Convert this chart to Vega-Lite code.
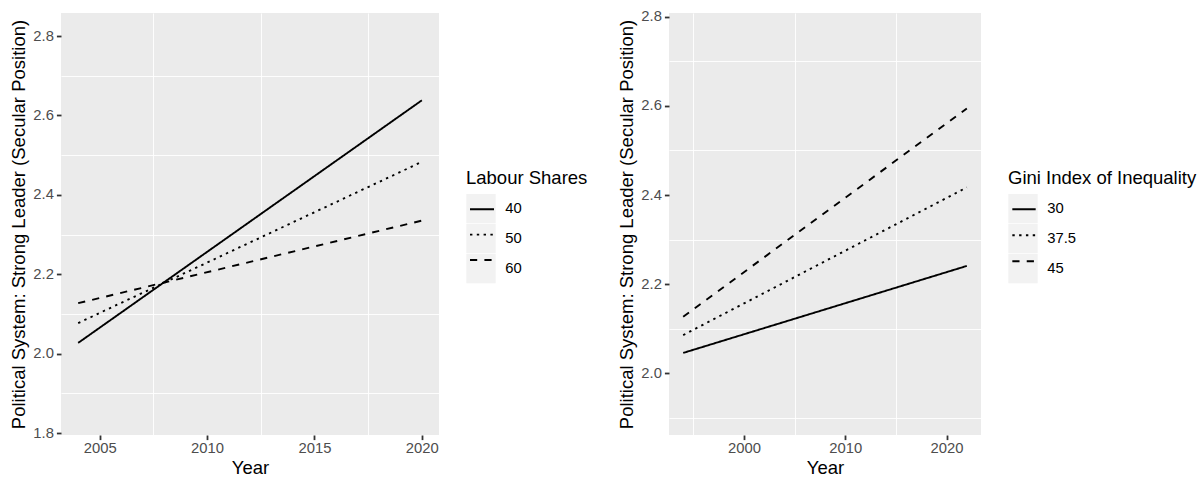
{
  "$schema": "https://vega.github.io/schema/vega-lite/v6.json",
  "background": "white",
  "padding": {"left": 9, "top": 8, "right": 0, "bottom": 0},
  "spacing": 29,
  "datasets": {
    "left": [
      {"year": 2004, "value": 2.027, "labour": "40", "key": "40"},
      {"year": 2020, "value": 2.638, "labour": "40", "key": "40"},
      {"year": 2004, "value": 2.077, "labour": "50", "key": "50"},
      {"year": 2020, "value": 2.483, "labour": "50", "key": "50"},
      {"year": 2004, "value": 2.127, "labour": "60", "key": "60"},
      {"year": 2020, "value": 2.335, "labour": "60", "key": "60"}
    ],
    "right": [
      {"year": 1994, "value": 2.046, "gini": "30", "gkey": "30"},
      {"year": 2022, "value": 2.241, "gini": "30", "gkey": "30"},
      {"year": 1994, "value": 2.086, "gini": "37.5", "gkey": "37.5"},
      {"year": 2022, "value": 2.417, "gini": "37.5", "gkey": "37.5"},
      {"year": 1994, "value": 2.127, "gini": "45", "gkey": "45"},
      {"year": 2022, "value": 2.594, "gini": "45", "gkey": "45"}
    ]
  },
  "hconcat": [
    {
      "data": {"name": "left"},
      "width": 378,
      "height": 422,
      "layer": [
        {
          "mark": {"type": "point", "opacity": 0, "filled": true, "color": "#F2F2F2"},
          "encoding": {
            "x": {"field": "year", "type": "quantitative", "scale": {"domain": [2003.2, 2020.8], "nice": false, "zero": false},
                  "axis": {"orient": "bottom", "values": [2007.5, 2012.5, 2017.5], "grid": true, "gridWidth": 0.9, "labels": false, "ticks": false, "domain": false, "title": null}},
            "y": {"field": "value", "type": "quantitative", "scale": {"domain": [1.795, 2.858], "nice": false, "zero": false},
                  "axis": {"orient": "left", "values": [1.9, 2.1, 2.3, 2.5, 2.7], "grid": true, "gridWidth": 0.9, "labels": false, "ticks": false, "domain": false, "title": null}},
            "shape": {"field": "key", "type": "nominal", "scale": {"range": ["square", "square", "square"]},
                      "legend": {"title": "Labour Shares", "orient": "none", "legendX": 405, "legendY": 156.3, "symbolType": "square", "symbolSize": 858, "symbolFillColor": "#F2F2F2", "symbolStrokeColor": "#F2F2F2", "symbolStrokeWidth": 0, "symbolOpacity": 1, "rowPadding": 0, "labelOffset": 9.3, "titlePadding": 5.85, "padding": 0, "titleLimit": 400}}
          }
        },
        {
          "mark": {"type": "line", "color": "black", "strokeWidth": 1.9},
          "encoding": {
            "x": {"field": "year", "type": "quantitative", "scale": {"domain": [2003.2, 2020.8], "nice": false, "zero": false},
                  "axis": {"orient": "bottom", "values": [2005, 2010, 2015, 2020], "format": "d", "title": "Year"}},
            "y": {"field": "value", "type": "quantitative", "scale": {"domain": [1.795, 2.858], "nice": false, "zero": false},
                  "axis": {"orient": "left", "values": [1.8, 2.0, 2.2, 2.4, 2.6, 2.8], "format": ".1f", "title": "Political System: Strong Leader (Secular Position)"}},
            "strokeDash": {"field": "labour", "type": "nominal", "scale": {"domain": ["40", "50", "60"], "range": [[1, 0], [2.4, 4.4], [7.2, 7.2]]},
                           "legend": {"title": null, "orient": "none", "legendX": 408, "legendY": 183.3, "symbolType": "stroke", "symbolSize": 576, "symbolStrokeWidth": 1.9, "symbolStrokeColor": "black", "labelExpr": "''", "rowPadding": 5.35, "padding": 0, "zindex": 1}}
          }
        }
      ],
      "resolve": {"axis": {"x": "independent", "y": "independent"}}
    },
    {
      "data": {"name": "right"},
      "width": 312,
      "height": 422,
      "layer": [
        {
          "mark": {"type": "point", "opacity": 0, "filled": true, "color": "#F2F2F2"},
          "encoding": {
            "x": {"field": "year", "type": "quantitative", "scale": {"domain": [1992.6, 2023.4], "nice": false, "zero": false},
                  "axis": {"orient": "bottom", "values": [1995, 2005, 2015], "grid": true, "gridWidth": 0.9, "labels": false, "ticks": false, "domain": false, "title": null}},
            "y": {"field": "value", "type": "quantitative", "scale": {"domain": [1.862, 2.808], "nice": false, "zero": false},
                  "axis": {"orient": "left", "values": [1.9, 2.1, 2.3, 2.5, 2.7], "grid": true, "gridWidth": 0.9, "labels": false, "ticks": false, "domain": false, "title": null}},
            "shape": {"field": "gkey", "type": "nominal", "scale": {"range": ["square", "square", "square"]},
                      "legend": {"title": "Gini Index of Inequality", "orient": "none", "legendX": 339, "legendY": 156.3, "symbolType": "square", "symbolSize": 858, "symbolFillColor": "#F2F2F2", "symbolStrokeColor": "#F2F2F2", "symbolStrokeWidth": 0, "symbolOpacity": 1, "rowPadding": 0, "labelOffset": 9.3, "titlePadding": 5.85, "padding": 0, "titleLimit": 400}}
          }
        },
        {
          "mark": {"type": "line", "color": "black", "strokeWidth": 1.9},
          "encoding": {
            "x": {"field": "year", "type": "quantitative", "scale": {"domain": [1992.6, 2023.4], "nice": false, "zero": false},
                  "axis": {"orient": "bottom", "values": [2000, 2010, 2020], "format": "d", "title": "Year"}},
            "y": {"field": "value", "type": "quantitative", "scale": {"domain": [1.862, 2.808], "nice": false, "zero": false},
                  "axis": {"orient": "left", "values": [2.0, 2.2, 2.4, 2.6, 2.8], "format": ".1f", "title": "Political System: Strong Leader (Secular Position)"}},
            "strokeDash": {"field": "gini", "type": "nominal", "scale": {"domain": ["30", "37.5", "45"], "range": [[1, 0], [2.4, 4.4], [7.2, 7.2]]},
                           "legend": {"title": null, "orient": "none", "legendX": 342, "legendY": 183.3, "symbolType": "stroke", "symbolSize": 545, "symbolStrokeWidth": 1.9, "symbolStrokeColor": "black", "labelExpr": "''", "rowPadding": 6, "padding": 0, "zindex": 1}}
          }
        }
      ],
      "resolve": {"axis": {"x": "independent", "y": "independent"}}
    }
  ],
  "resolve": {
    "scale": {"x": "independent", "y": "independent", "strokeDash": "independent", "shape": "independent"},
    "legend": {"strokeDash": "independent", "shape": "independent"}
  },
  "config": {
    "font": "Liberation Sans",
    "view": {"fill": "#EBEBEB", "stroke": null},
    "axis": {
      "domain": false,
      "labelColor": "#4D4D4D",
      "labelFontSize": 14.8,
      "labelPadding": 3,
      "labelFlush": false,
      "labelOverlap": false,
      "tickColor": "#333333",
      "tickWidth": 1.8,
      "tickSize": 4.6,
      "gridColor": "#FFFFFF",
      "gridWidth": 1.8,
      "titleFontSize": 18.5,
      "titleFontWeight": "normal",
      "titleColor": "#000000",
      "titlePadding": 4
    },
    "axisX": {"labelPadding": 1, "titlePadding": 3},
    "legend": {
      "labelFontSize": 14.8,
      "labelColor": "#000000",
      "titleFontSize": 18.5,
      "titleFontWeight": "normal",
      "titleColor": "#000000"
    }
  }
}
